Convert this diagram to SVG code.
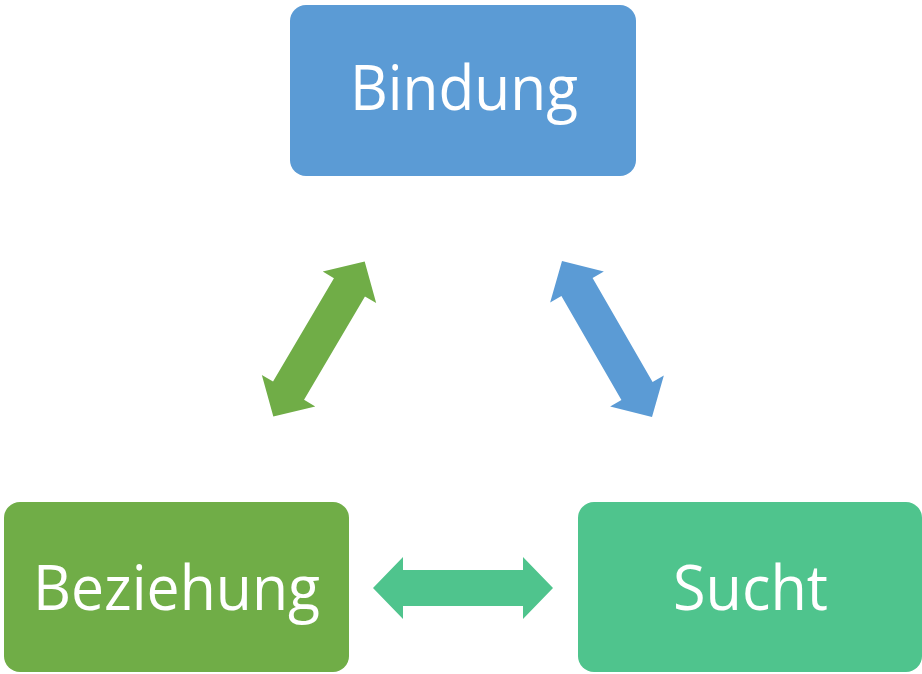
<svg xmlns="http://www.w3.org/2000/svg" width="922" height="674" viewBox="0 0 922 674">
<style>
.lbl{font-family:"Open Sans","Noto Sans","Liberation Sans",sans-serif;font-size:62px;fill:#ffffff;text-anchor:middle}
</style>
<defs>
<path id="dbl" d="M-90,0 L-60,-31 L-60,-18 L60,-18 L60,-31 L90,0 L60,31 L60,18 L-60,18 L-60,31 Z"/>
</defs>
<rect width="922" height="674" fill="#ffffff"/>
<g id="connectors">
<use href="#dbl" fill="#70AD47" transform="translate(319,339) rotate(-59.5)"/>
<use href="#dbl" fill="#5B9BD5" transform="translate(607,339) rotate(60)"/>
<use href="#dbl" fill="#4FC48D" transform="translate(463,588)"/>
</g>
<g id="bindung">
<rect x="290" y="5" width="346" height="171" rx="16" fill="#5B9BD5"/>
<text class="lbl" x="464" y="110" textLength="228" lengthAdjust="spacingAndGlyphs">Bindung</text>
</g>
<g id="beziehung">
<rect x="4" y="502" width="345" height="170" rx="16" fill="#70AD47"/>
<text class="lbl" x="176.5" y="610" textLength="287" lengthAdjust="spacingAndGlyphs">Beziehung</text>
</g>
<g id="sucht">
<rect x="578" y="502" width="344" height="170" rx="16" fill="#4FC48D"/>
<text class="lbl" x="750.5" y="610" textLength="155" lengthAdjust="spacingAndGlyphs">Sucht</text>
</g>
</svg>
